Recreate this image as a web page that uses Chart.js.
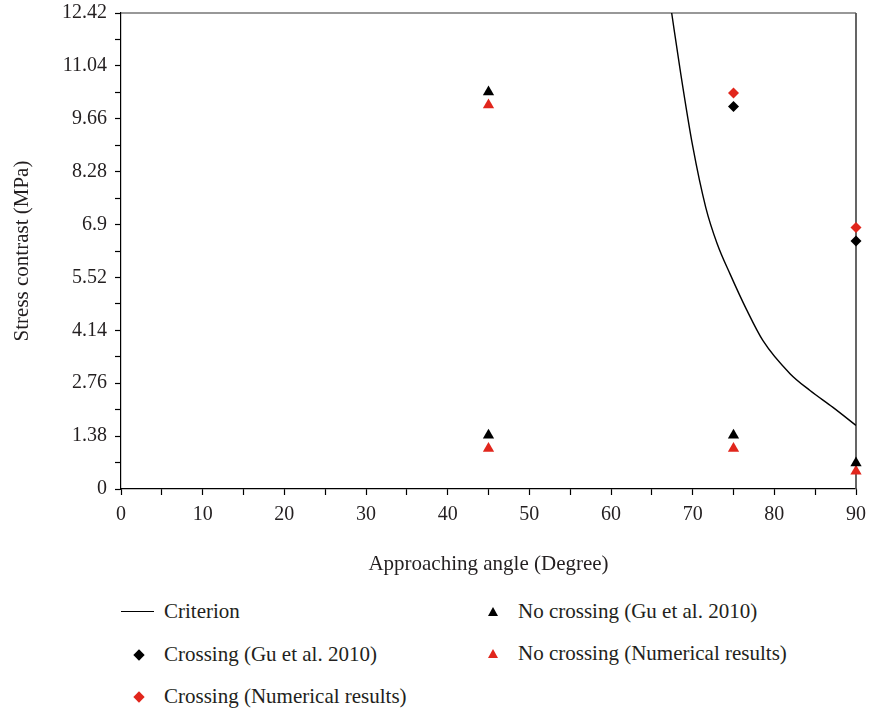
<!DOCTYPE html>
<html>
<head>
<meta charset="utf-8">
<script src="https://cdn.jsdelivr.net/npm/chart.js@4"></script>
<style>
  body { margin: 0; background: #fff; overflow: hidden; }
  .wrap { position: relative; width: 869px; height: 711px; overflow: hidden; font-family: "Liberation Serif", "DejaVu Serif", serif; color: #231f20; }
  #chart { position: absolute; left: 0; top: -7px; }
  .leg { position: absolute; font-size: 21px; line-height: 24px; white-space: nowrap; }
  .sym { position: absolute; }
</style>
</head>
<body>
<div class="wrap">
  <canvas id="chart" width="874" height="597"></canvas>
  <div id="legend"></div>
</div>
<script>
// Criterion curve (angle in degrees, stress contrast in MPa)
const criterionAngle = [67.43, 68.45, 70.0, 71.6, 73.0, 74.6, 76.6, 78.61, 81.92, 84.37, 87.18, 90];
const criterionStress = [12.42, 10.96, 8.95, 7.35, 6.4, 5.6, 4.68, 3.87, 3.01, 2.57, 2.13, 1.66];

// Crossing (Gu et al. 2010)
const crossGuAngle = [75, 90];
const crossGuStress = [9.98, 6.47];

// Crossing (Numerical results)
const crossNumAngle = [75, 90];
const crossNumStress = [10.33, 6.82];

// No crossing (Gu et al. 2010)
const noCrossGuAngle = [45, 45, 75, 90];
const noCrossGuStress = [10.36, 1.4, 1.4, 0.68];

// No crossing (Numerical results)
const noCrossNumAngle = [45, 45, 75, 90];
const noCrossNumStress = [10.02, 1.06, 1.06, 0.46];

// tick labels
const xTickLabels = ["0", "10", "20", "30", "40", "50", "60", "70", "80", "90"];
const yTickLabels = ["0", "1.38", "2.76", "4.14", "5.52", "6.9", "8.28", "9.66", "11.04", "12.42"];

const RED = "#e1261c";
const BLACK = "#000000";

const toPts = (xs, ys) => xs.map((x, i) => ({ x: x, y: ys[i] }));

// majors from labels, minors halfway between
function withMinors(labels) {
  const vals = labels.map(Number);
  const out = [];
  vals.forEach((v, i) => {
    out.push({ value: v });
    if (i < vals.length - 1) out.push({ value: (v + vals[i + 1]) / 2 });
  });
  return out;
}

// draws top and right lines of the plot box
const frame = {
  id: "frame",
  beforeDatasetsDraw(chart) {
    const { ctx, chartArea: a } = chart;
    ctx.save();
    ctx.strokeStyle = "#333";
    ctx.lineWidth = 1.2;
    ctx.beginPath();
    ctx.moveTo(a.left, a.top);
    ctx.lineTo(a.right, a.top);
    ctx.stroke();
    ctx.strokeStyle = "#555";
    ctx.lineWidth = 1.8;
    ctx.beginPath();
    ctx.moveTo(a.right, a.top);
    ctx.lineTo(a.right, a.bottom);
    ctx.stroke();
    ctx.restore();
  }
};

const fontFamily = '"Liberation Serif", "DejaVu Serif", serif';

new Chart(document.getElementById("chart"), {
  type: "scatter",
  data: {
    datasets: [
      {
        label: "Criterion",
        data: toPts(criterionAngle, criterionStress),
        showLine: true,
        borderColor: BLACK,
        borderWidth: 1.4,
        pointRadius: 0,
        cubicInterpolationMode: "monotone",
        order: 5
      },
      {
        label: "Crossing (Gu et al. 2010)",
        data: toPts(crossGuAngle, crossGuStress),
        pointStyle: "rectRot",
        pointRadius: 5.5,
        backgroundColor: BLACK,
        borderColor: BLACK,
        borderWidth: 0,
        clip: false
      },
      {
        label: "Crossing (Numerical results)",
        data: toPts(crossNumAngle, crossNumStress),
        pointStyle: "rectRot",
        pointRadius: 5.5,
        backgroundColor: RED,
        borderColor: RED,
        borderWidth: 0,
        clip: false
      },
      {
        label: "No crossing (Gu et al. 2010)",
        data: toPts(noCrossGuAngle, noCrossGuStress),
        pointStyle: "triangle",
        pointRadius: 6.5,
        backgroundColor: BLACK,
        borderColor: BLACK,
        borderWidth: 0,
        clip: false
      },
      {
        label: "No crossing (Numerical results)",
        data: toPts(noCrossNumAngle, noCrossNumStress),
        pointStyle: "triangle",
        pointRadius: 6.5,
        backgroundColor: RED,
        borderColor: RED,
        borderWidth: 0,
        clip: false
      }
    ]
  },
  options: {
    responsive: false,
    animation: false,
    layout: { padding: { left: 0, top: 11, right: 13, bottom: 0 } },
    plugins: {
      legend: { display: false },
      tooltip: { enabled: false }
    },
    scales: {
      x: {
        type: "linear",
        min: 0,
        max: 90,
        afterBuildTicks: (s) => { s.ticks = withMinors(xTickLabels); },
        afterFit: (s) => { s.height = 101; },
        border: { color: BLACK, width: 1.2 },
        grid: { drawOnChartArea: false, drawTicks: true, tickLength: 6, tickColor: BLACK, tickWidth: 1.2 },
        ticks: {
          autoSkip: false,
          maxRotation: 0,
          padding: 8,
          color: "#231f20",
          font: { family: fontFamily, size: 20 },
          callback: (v, i) => (i % 2 === 0 ? xTickLabels[i / 2] : "")
        },
        title: {
          display: true,
          text: "Approaching angle (Degree)",
          color: "#231f20",
          font: { family: fontFamily, size: 21 },
          padding: { top: 0, bottom: 13 }
        }
      },
      y: {
        type: "linear",
        min: 0,
        max: 12.42,
        afterBuildTicks: (s) => { s.ticks = withMinors(yTickLabels); },
        afterFit: (s) => { s.width = 121; },
        border: { color: BLACK, width: 1.2 },
        grid: { drawOnChartArea: false, drawTicks: true, tickLength: 6, tickColor: BLACK, tickWidth: 1.2 },
        ticks: {
          autoSkip: false,
          padding: 8,
          color: "#231f20",
          font: { family: fontFamily, size: 20 },
          callback: (v, i) => (i % 2 === 0 ? yTickLabels[i / 2] : "")
        },
        title: {
          display: true,
          text: "Stress contrast (MPa)",
          color: "#231f20",
          font: { family: fontFamily, size: 21 },
          padding: { top: 10, bottom: 0 }
        }
      }
    }
  },
  plugins: [frame]
});

// legend laid out in two columns like the original figure
const legendItems = [
  { text: "Criterion", kind: "line", color: BLACK, x: 121, y: 612 },
  { text: "Crossing (Gu et al. 2010)", kind: "diamond", color: BLACK, x: 121, y: 655 },
  { text: "Crossing (Numerical results)", kind: "diamond", color: RED, x: 121, y: 697 },
  { text: "No crossing (Gu et al. 2010)", kind: "triangle", color: BLACK, x: 475, y: 612 },
  { text: "No crossing (Numerical results)", kind: "triangle", color: RED, x: 475, y: 654 }
];
const leg = document.getElementById("legend");
legendItems.forEach((it) => {
  const sym = document.createElement("div");
  sym.className = "sym";
  if (it.kind === "line") {
    Object.assign(sym.style, { left: it.x + "px", top: (it.y - 1) + "px", width: "33px", height: "1.4px", background: it.color });
  } else if (it.kind === "diamond") {
    Object.assign(sym.style, { left: (it.x + 14) + "px", top: (it.y - 4) + "px", width: "8px", height: "8px", background: it.color, transform: "rotate(45deg)" });
  } else {
    Object.assign(sym.style, { left: (it.x + 13) + "px", top: (it.y - 5) + "px", width: "0", height: "0",
      borderLeft: "5px solid transparent", borderRight: "5px solid transparent", borderBottom: "9px solid " + it.color });
  }
  leg.appendChild(sym);
  const t = document.createElement("div");
  t.className = "leg";
  t.textContent = it.text;
  t.style.left = (it.x + 43) + "px";
  t.style.top = (it.y - 13) + "px";
  leg.appendChild(t);
});
</script>
</body>
</html>
